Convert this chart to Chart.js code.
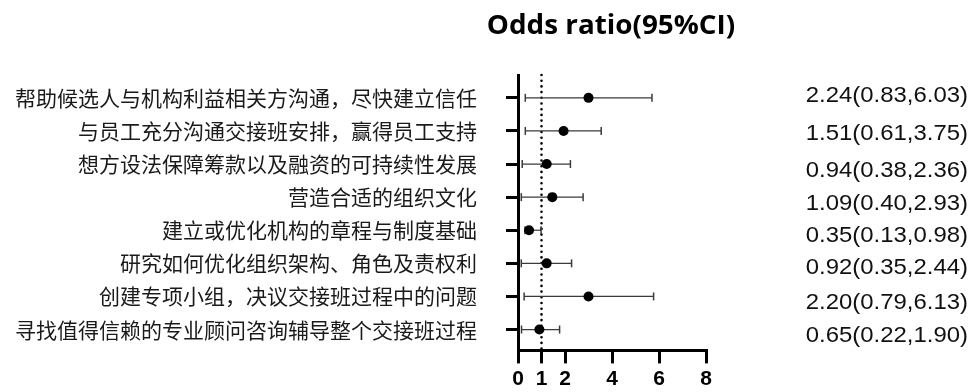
<!DOCTYPE html>
<html>
<head>
<meta charset="utf-8">
<script src="https://cdn.jsdelivr.net/npm/chart.js@4.4.1/dist/chart.umd.min.js"></script>
<style>
  html, body { margin: 0; padding: 0; background: #fff; }
  #wrap { width: 971px; height: 392px; position: relative; }
</style>
</head>
<body>
<div id="wrap"><canvas id="forest"></canvas></div>
<script>
// rows, top to bottom
const rowLabels = [
  "帮助候选人与机构利益相关方沟通，尽快建立信任",
  "与员工充分沟通交接班安排，赢得员工支持",
  "想方设法保障筹款以及融资的可持续性发展",
  "营造合适的组织文化",
  "建立或优化机构的章程与制度基础",
  "研究如何优化组织架构、角色及责权利",
  "创建专项小组，决议交接班过程中的问题",
  "寻找值得信赖的专业顾问咨询辅导整个交接班过程"
];
// values as plotted in the picture
const oddsRatio = [3.0, 1.94, 1.22, 1.46, 0.47, 1.22, 3.0, 0.91];
const ciLower   = [0.31, 0.31, 0.18, 0.14, 0.30, 0.14, 0.26, 0.15];
const ciUpper   = [5.70, 3.54, 2.23, 2.77, 0.98, 2.28, 5.77, 1.77];
// printed text column
const ciText = [
  "2.24(0.83,6.03)", "1.51(0.61,3.75)", "0.94(0.38,2.36)", "1.09(0.40,2.93)",
  "0.35(0.13,0.98)", "0.92(0.35,2.44)", "2.20(0.79,6.13)", "0.65(0.22,1.90)"
];
const xTicks = [0, 1, 2, 4, 6, 8];
const refLine = 1;
const titleText = "Odds ratio(95%CI)";

const yMin = 0.31, yMax = 8.63;

const datasets = [];
datasets.push({
  type: "scatter",
  label: "OR",
  data: oddsRatio.map((v, i) => ({ x: v, y: i + 1 })),
  pointRadius: 5,
  pointBackgroundColor: "#000",
  pointBorderColor: "#000",
  pointBorderWidth: 0,
  order: 0
});
rowLabels.forEach((lab, i) => {
  datasets.push({
    type: "line",
    label: "CI " + (i + 1),
    data: [{ x: ciLower[i], y: i + 1 }, { x: ciUpper[i], y: i + 1 }],
    borderColor: "#3a3a3a",
    borderWidth: 1.2,
    pointStyle: "line",
    rotation: 90,
    pointRadius: 4,
    pointBorderColor: "#3a3a3a",
    pointBorderWidth: 1.5,
    clip: false,
    order: 1
  });
});
datasets.push({
  type: "line",
  label: "ref",
  data: [{ x: refLine, y: yMin }, { x: refLine, y: yMax }],
  borderColor: "#000",
  borderWidth: 2.6,
  borderDash: [0, 5.7],
  borderCapStyle: "round",
  pointRadius: 0,
  clip: false,
  order: 2
});

// stretched text helper, the source picture is a little wider than tall
function wideText(ctx, text, x, y, sx) {
  ctx.save();
  ctx.translate(x, y);
  ctx.scale(sx, 1);
  ctx.fillText(text, 0, 0);
  ctx.restore();
}

// title and text column on the right
const sideText = {
  id: "sideText",
  afterDraw(chart) {
    const ctx = chart.ctx;
    const y = chart.scales.y;
    ctx.save();
    ctx.fillStyle = "#000";
    ctx.font = "bold 26px 'Open Sans'";
    ctx.textAlign = "center";
    ctx.textBaseline = "middle";
    wideText(ctx, titleText, 611, 27, 1.07);

    const nudge = [-2, 3, 7, 7, 6, 5, 6, 6];
    ctx.font = "22px 'Liberation Sans'";
    ctx.fillStyle = "#111";
    ctx.textAlign = "right";
    ciText.forEach((t, i) => {
      wideText(ctx, t, 968, y.getPixelForValue(i + 1) + nudge[i], 1.087);
    });
    ctx.restore();
  }
};

new Chart(document.getElementById("forest"), {
  data: { datasets },
  options: {
    responsive: true,
    maintainAspectRatio: false,
    animation: false,
    events: [],
    layout: { padding: { left: 0, right: 265, top: 75, bottom: 0 } },
    plugins: { legend: { display: false }, tooltip: { enabled: false } },
    scales: {
      x: {
        type: "linear",
        min: 0,
        max: 8,
        afterBuildTicks: (s) => { s.ticks = xTicks.map(v => ({ value: v })); },
        afterFit: (s) => { s.height = 35; },
        grid: { drawOnChartArea: false, drawTicks: true, tickLength: 13, lineWidth: 3, color: "#000" },
        border: { display: true, width: 3, color: "#000" },
        ticks: {
          padding: 3,
          color: "#000",
          font: { family: "'Liberation Sans'", size: 21, weight: "bold" },
          maxRotation: 0,
          autoSkip: false
        }
      },
      y: {
        type: "linear",
        reverse: true,
        min: yMin,
        max: yMax,
        afterBuildTicks: (s) => { s.ticks = rowLabels.map((_, i) => ({ value: i + 1 })); },
        afterFit: (s) => { s.width = 518; },
        grid: { drawOnChartArea: false, drawTicks: true, tickLength: 12, lineWidth: 3, color: "#000" },
        border: { display: true, width: 3, color: "#000" },
        ticks: {
          padding: 29,
          color: "#1a1a1a",
          font: { family: "'Noto Sans CJK SC'", size: 21 },
          autoSkip: false,
          callback: (v, idx) => rowLabels[idx]
        }
      }
    }
  },
  plugins: [sideText]
});
</script>
</body>
</html>
